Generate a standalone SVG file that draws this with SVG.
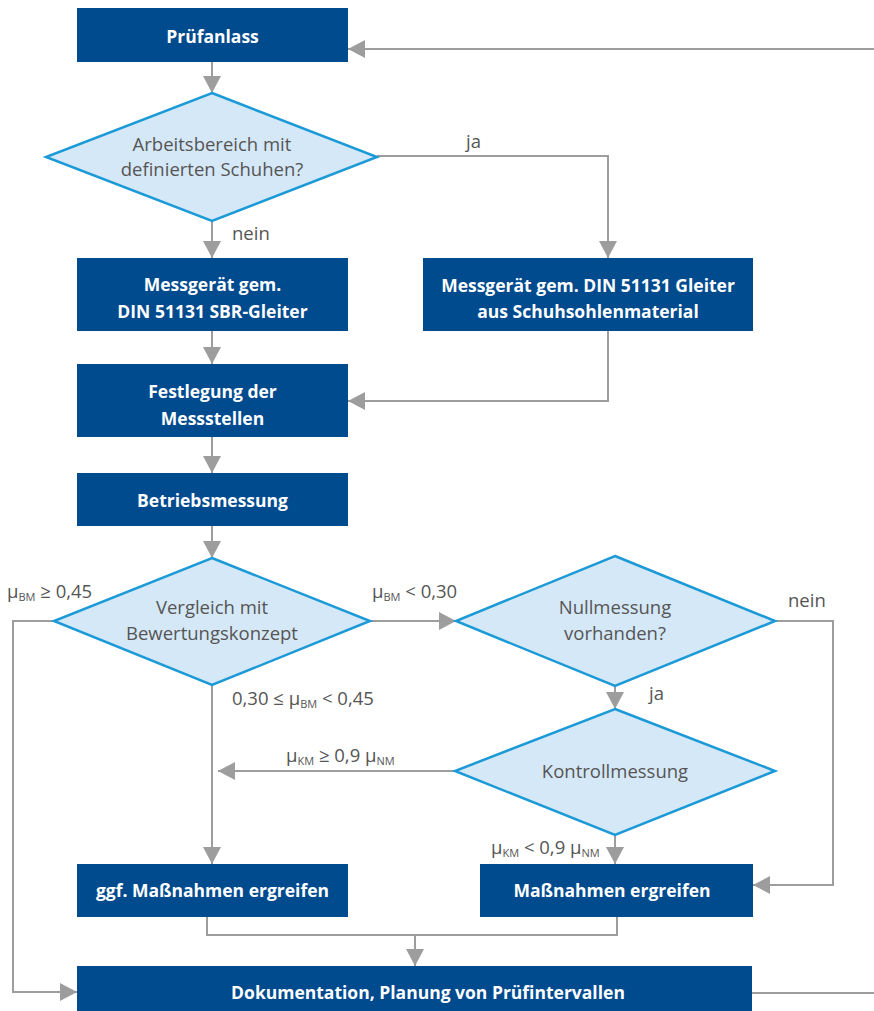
<svg xmlns="http://www.w3.org/2000/svg" width="874" height="1011" viewBox="0 0 874 1011">
<defs>
<marker id="ah" markerUnits="userSpaceOnUse" markerWidth="18" markerHeight="18" viewBox="0 0 18 18" refX="17" refY="9" orient="auto">
<path d="M0,0 L17,9 L0,18 Z" fill="#9d9d9d"/>
</marker>
<style>
.box{fill:#004a8e}
.bt{fill:#ffffff;font-family:"Open Sans","Liberation Sans",sans-serif;font-weight:700;font-size:17.5px;text-anchor:middle;dominant-baseline:central}
.dia{fill:#d5e8f7;stroke:#1b9ad7;stroke-width:2.5;stroke-linejoin:miter}
.dt{fill:#555555;font-family:"Open Sans","Liberation Sans",sans-serif;font-size:18.5px;text-anchor:middle;dominant-baseline:central}
.lb{fill:#555555;font-family:"Open Sans","Liberation Sans",sans-serif;font-size:18.5px}
.sb{font-size:11px}
.cn{fill:none;stroke:#9d9d9d;stroke-width:2}
.ar{marker-end:url(#ah)}
</style>
</defs>
<rect width="874" height="1011" fill="#ffffff"/>
<g id="connectors">
<path class="cn ar" d="M212,62 V93"/>
<path class="cn ar" d="M377,156 H608 V258"/>
<path class="cn ar" d="M212,222 V258"/>
<path class="cn ar" d="M212,331 V364"/>
<path class="cn ar" d="M608,331 V401 H348"/>
<path class="cn ar" d="M212,437 V473"/>
<path class="cn ar" d="M212,526 V558"/>
<path class="cn ar" d="M370,621 H456"/>
<path class="cn ar" d="M54,621 H13 V992 H77"/>
<path class="cn ar" d="M212,685 V864"/>
<path class="cn ar" d="M775,621 H833 V885 H753"/>
<path class="cn ar" d="M615,686 V709"/>
<path class="cn ar" d="M455,771 H218"/>
<path class="cn ar" d="M615,835 V864"/>
<path class="cn" d="M207,917 V935 H617 V917"/>
<path class="cn ar" d="M415,935 V966"/>
<path class="cn ar" d="M752,993 H880 V49 H348"/>
</g>
<g id="n_pruefanlass"><rect class="box" x="77" y="8" width="271" height="54"/><text class="bt" x="212.5" y="35.5">Prüfanlass</text></g>
<g id="d_arbeitsbereich"><polygon class="dia" points="212,93 377,157 212,221 46,157"/><text class="dt" x="212" y="143">Arbeitsbereich mit</text><text class="dt" x="212" y="168">definierten Schuhen?</text></g>
<g id="n_sbr"><rect class="box" x="77" y="258" width="271" height="73"/><text class="bt" x="212.5" y="284">Messgerät gem.</text><text class="bt" x="212.5" y="311">DIN 51131 SBR-Gleiter</text></g>
<g id="n_gleiter"><rect class="box" x="423" y="258" width="330" height="73"/><text class="bt" x="588" y="285">Messgerät gem. DIN 51131 Gleiter</text><text class="bt" x="588" y="311">aus Schuhsohlenmaterial</text></g>
<g id="n_festlegung"><rect class="box" x="77" y="364" width="271" height="73"/><text class="bt" x="212.5" y="391">Festlegung der</text><text class="bt" x="212.5" y="418">Messstellen</text></g>
<g id="n_betrieb"><rect class="box" x="77" y="473" width="271" height="53"/><text class="bt" x="212.5" y="500">Betriebsmessung</text></g>
<g id="d_vergleich"><polygon class="dia" points="212,558 370,621 212,685 54,621"/><text class="dt" x="212" y="606">Vergleich mit</text><text class="dt" x="212" y="632">Bewertungskonzept</text></g>
<g id="d_null"><polygon class="dia" points="615,556 775,621 615,686 456,621"/><text class="dt" x="615" y="606">Nullmessung</text><text class="dt" x="615" y="632">vorhanden?</text></g>
<g id="d_kontroll"><polygon class="dia" points="615,709 775,771 615,835 455,771"/><text class="dt" x="615" y="770">Kontrollmessung</text></g>
<g id="n_ggf"><rect class="box" x="77" y="864" width="271" height="53"/><text class="bt" x="212.5" y="890">ggf. Maßnahmen ergreifen</text></g>
<g id="n_massnahmen"><rect class="box" x="480" y="864" width="273" height="53"/><text class="bt" x="612" y="890">Maßnahmen ergreifen</text></g>
<g id="n_doku"><rect class="box" x="77" y="966" width="675" height="50"/><text class="bt" x="428" y="992">Dokumentation, Planung von Prüfintervallen</text></g>
<g id="labels">
<text class="lb" x="7" y="598">μ<tspan class="sb" dy="3">BM</tspan><tspan dy="-3"> ≥ 0,45</tspan></text>
<text class="lb" x="466" y="148">ja</text>
<text class="lb" x="232" y="240">nein</text>
<text class="lb" x="372" y="598">μ<tspan class="sb" dy="3">BM</tspan><tspan dy="-3"> &lt; 0,30</tspan></text>
<text class="lb" x="232" y="705">0,30 ≤ μ<tspan class="sb" dy="3">BM</tspan><tspan dy="-3"> &lt; 0,45</tspan></text>
<text class="lb" x="788" y="607">nein</text>
<text class="lb" x="649" y="700">ja</text>
<text class="lb" x="286" y="762">μ<tspan class="sb" dy="3">KM</tspan><tspan dy="-3"> ≥ 0,9 μ</tspan><tspan class="sb" dy="3">NM</tspan></text>
<text class="lb" x="491" y="854">μ<tspan class="sb" dy="3">KM</tspan><tspan dy="-3"> &lt; 0,9 μ</tspan><tspan class="sb" dy="3">NM</tspan></text>
</g>
</svg>
